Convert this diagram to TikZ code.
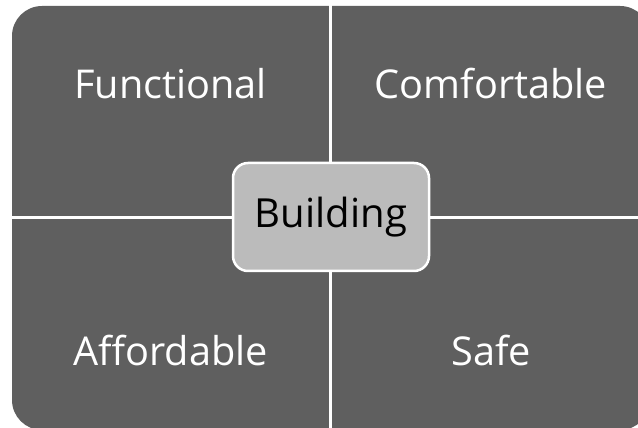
\documentclass[tikz,border=0pt]{standalone}
\usepackage{fontspec}
\setmainfont{Open Sans}
\definecolor{quadgray}{RGB}{95,95,95}
\definecolor{hubgray}{RGB}{187,187,187}
\tikzset{
	quadlabel/.style={text=white,font=\fontsize{22.6}{26}\selectfont,inner sep=0pt},
	hubbox/.style={draw=white,line width=2.5*0.02cm,fill=hubgray,rounded corners=0.3cm,
		minimum width=196*0.02cm,minimum height=108*0.02cm,font=\fontsize{22.8}{26}\selectfont,inner sep=0pt}
}
\begin{document}
\begin{tikzpicture}[x=0.02cm,y=-0.02cm]{
		\def\midx{330.7}
		\def\midy{218}

		\useasboundingbox (0,0) rectangle (638,428);
		\clip (0,0) rectangle (638,428);
		\fill[quadgray,rounded corners=0.6cm] (12,6) rectangle (650,430);

		\coordinate (top)    at (\midx,0);
		\coordinate (bottom) at (\midx,428);
		\coordinate (left)   at (0,\midy);
		\coordinate (right)  at (638,\midy);
		\draw[white,line width=3*0.02cm] (top) -- (bottom);
		\draw[white,line width=3*0.02cm] (left) -- (right);

		\node[quadlabel] (functional)  at (170.5,84) {Functional};
		\node[quadlabel] (comfortable) at (491,84)   {Comfortable};
		\node[quadlabel] (affordable)  at (170.5,351)  {Affordable};
		\node[quadlabel] (safe)        at (491,351)    {Safe};

		\node[hubbox] (building) at (331,217) {Building};

	}\end{tikzpicture}
\end{document}
